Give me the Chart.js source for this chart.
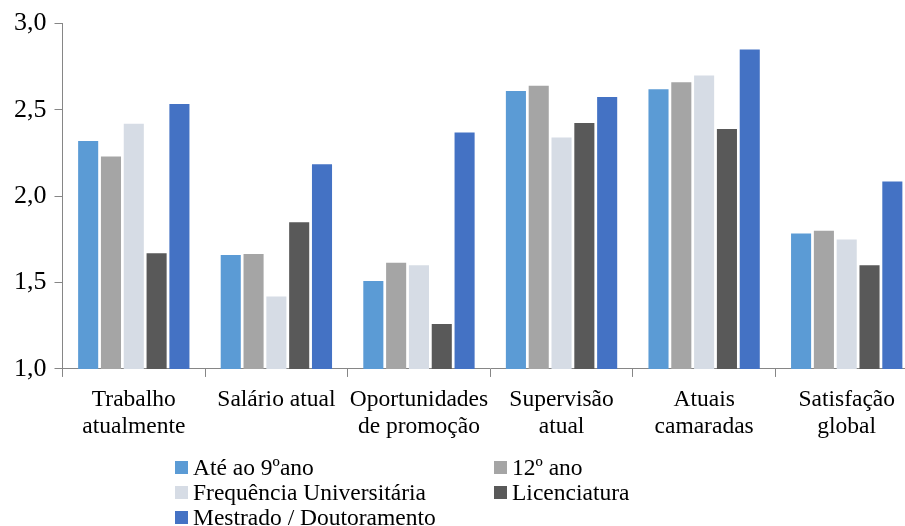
<!DOCTYPE html>
<html>
<head>
<meta charset="utf-8">
<style>
  html, body { margin: 0; padding: 0; background: #fff; overflow: hidden; }
  #wrap { position: relative; width: 905px; height: 526px; overflow: hidden; }
  #box { position: absolute; left: 0; top: 0; width: 920px; height: 449px; }
  #legend { position: absolute; left: 0; top: 0; width: 905px; height: 526px;
    font-family: 'Times New Roman', 'Liberation Serif', serif; font-size: 23.5px; color: #000; }
  .item { position: absolute; white-space: nowrap; line-height: 24px; }
  .sw { position: absolute; width: 13px; height: 13px; }
</style>
<script src="https://cdn.jsdelivr.net/npm/chart.js@4.4.7/dist/chart.umd.min.js"></script>
</head>
<body>
<div id="wrap">
  <div id="box"><canvas id="chart"></canvas></div>
  <div id="legend"></div>
</div>
<script>
var categories = [
  ['Trabalho', 'atualmente'],
  ['Salário atual'],
  ['Oportunidades', 'de promoção'],
  ['Supervisão', 'atual'],
  ['Atuais', 'camaradas'],
  ['Satisfação', 'global'],
];
var seriesNames = [
  'Até ao 9ºano',
  '12º ano',
  'Frequência Universitária',
  'Licenciatura',
  'Mestrado / Doutoramento',
];
var ate9 = [2.32, 1.66, 1.51, 2.61, 2.62, 1.785];
var ano12 = [2.23, 1.665, 1.615, 2.64, 2.66, 1.80];
var freqUni = [2.42, 1.42, 1.60, 2.34, 2.70, 1.75];
var licenciatura = [1.67, 1.85, 1.26, 2.425, 2.39, 1.60];
var mestrado = [2.535, 2.185, 2.37, 2.575, 2.85, 2.085];
var yTicks = [1.0, 1.5, 2.0, 2.5, 3.0];
var colors = ['#5b9bd5', '#a5a5a5', '#d6dce5', '#595959', '#4472c4'];

var seriesValues = [ate9, ano12, freqUni, licenciatura, mestrado];
var font = "'Times New Roman', 'Liberation Serif', serif";

var datasets = seriesValues.map(function (vals, i) {
  return {
    label: seriesNames[i],
    data: vals,
    backgroundColor: colors[i],
    borderWidth: 0,
    categoryPercentage: 0.8,
    barPercentage: 0.88,
  };
});

new Chart(document.getElementById('chart').getContext('2d'), {
  type: 'bar',
  data: { labels: categories, datasets: datasets },
  options: {
    responsive: true,
    maintainAspectRatio: false,
    animation: false,
    layout: { padding: { left: 6, right: 2, top: 14, bottom: 0 } },
    plugins: { legend: { display: false }, tooltip: { enabled: false } },
    scales: {
      x: {
        grid: {
          drawOnChartArea: false,
          tickLength: 8,
          color: '#868686',
        },
        border: { color: '#868686', width: 1 },
        ticks: {
          color: '#000',
          font: { family: font, size: 23.5, lineHeight: 1.15 },
          padding: 9,
          maxRotation: 0,
          autoSkip: false,
        },
      },
      y: {
        min: 1,
        max: 3,
        afterBuildTicks: function (axis) {
          axis.ticks = yTicks.map(function (v) { return { value: v }; });
        },
        grid: {
          drawOnChartArea: false,
          tickLength: 8,
          color: '#868686',
        },
        border: { color: '#868686', width: 1 },
        ticks: {
          color: '#000',
          font: { family: font, size: 26 },
          padding: 8,
          callback: function (v) { return v.toFixed(1).replace('.', ','); },
        },
      },
    },
  },
});

// two-column legend under the plot
var legend = document.getElementById('legend');
var cols = [175, 494];
var rows = [461, 486, 511];
seriesNames.forEach(function (name, i) {
  var x = cols[i % 2], y = rows[Math.floor(i / 2)];
  var sw = document.createElement('div');
  sw.className = 'sw';
  sw.style.left = x + 'px';
  sw.style.top = y + 'px';
  sw.style.background = colors[i];
  legend.appendChild(sw);
  var t = document.createElement('div');
  t.className = 'item';
  t.style.left = (x + 18) + 'px';
  t.style.top = (y - 6) + 'px';
  t.textContent = name;
  legend.appendChild(t);
});
</script>
</body>
</html>
